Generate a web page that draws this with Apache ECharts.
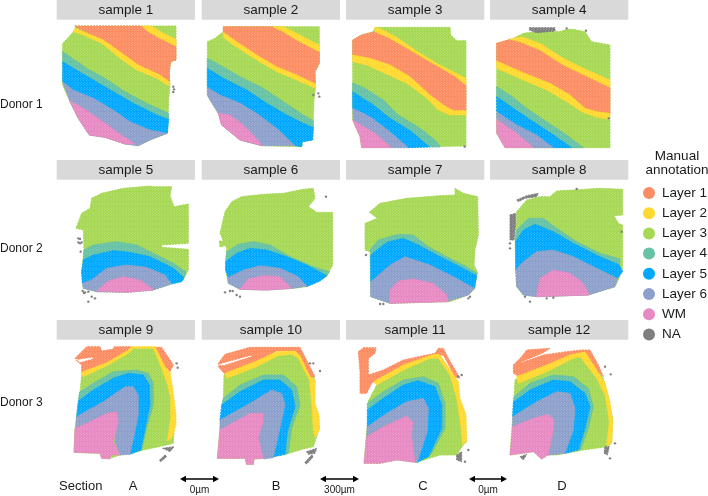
<!DOCTYPE html>
<html><head><meta charset="utf-8">
<script src="https://cdn.jsdelivr.net/npm/echarts@6/dist/echarts.min.js"></script>
<style>html,body{margin:0;padding:0;background:#fff}#c{width:708px;height:496px}</style></head>
<body><div id="c"></div>
<script>
// Region outlines, in tissue coordinates; each list is x,y,x,y...; two numbers = one lone spot.
const layerNames=['Layer 3','Layer 1','Layer 2','Layer 4','Layer 5','Layer 6','WM','NA'];
const legendNames=['Layer 1','Layer 2','Layer 3','Layer 4','Layer 5','Layer 6','WM','NA'];
const layerColors={'Layer 1':'#FC8D62','Layer 2':'#FFD92F','Layer 3':'#A6D854','Layer 4':'#66C2A5','Layer 5':'#00A9FF','Layer 6':'#8DA0CB','WM':'#E78AC3','NA':'#7F7F7F'};
const sampleNames=['sample 1','sample 2','sample 3','sample 4','sample 5','sample 6','sample 7','sample 8','sample 9','sample 10','sample 11','sample 12'];
const donorNames=['Donor 1','Donor 2','Donor 3'];
const sectionNames=['A','B','C','D'];
const gapLabels=['0µm','300µm','0µm'];

const s1_L3=[[75,78,378,78,378,180,362,185,358,215,360,255,356,300,354,358,352,400,300,420,265,437,225,432,165,412,118,405,85,355,60,305,38,255,38,130,50,118,75,90]];
const s1_L1=[[75,78,275,78,295,95,330,115,378,138,378,180,362,185,358,215,358,245,330,225,265,195,210,155,160,120,85,85]];
const s1_L2=[[275,78,305,78,340,100,378,118,378,138,330,115,295,95],[75,85,160,120,210,155,265,195,330,225,358,245,358,258,320,235,260,210,210,175,155,130,100,105,70,95]];
const s1_L4=[[38,155,60,170,110,205,165,235,225,275,290,310,356,340,356,358,320,345,250,310,190,275,130,240,70,205,38,185]];
const s1_L5=[[38,185,70,205,130,240,190,275,250,310,320,345,356,358,352,400,300,390,240,365,190,330,130,295,70,270,38,245]];
const s1_L6=[[38,245,70,270,130,295,190,330,240,365,300,390,352,400,300,420,265,437,225,432,165,412,118,405,85,355,60,305]];
const s1_WM=[[60,302,100,325,160,365,200,395,255,432,225,432,165,412,118,405,85,355]];
const s1_NA=[[370,260],[372,268],[370,276]];

const s2_L3=[[520,80,808,80,808,190,795,215,797,262,792,300,788,420,757,425,755,440,635,437,570,420,515,375,505,340,480,300,472,285,472,125,495,115,520,95]];
const s2_L1=[[520,80,668,80,700,95,740,120,808,155,808,190,795,215,796,250,740,225,680,200,620,165,560,125,520,100]];
const s2_L2=[[668,80,700,80,740,100,808,135,808,155,740,120,700,95],[520,97,560,125,620,165,680,200,740,225,797,252,797,265,740,240,680,215,620,180,550,135,520,112]];
const s2_L4=[[472,175,510,195,570,230,640,265,700,305,760,345,790,362,790,383,760,370,710,345,650,310,590,270,520,235,472,205]];
const s2_L5=[[472,205,520,235,590,270,650,310,710,345,760,370,790,383,788,420,757,425,755,440,735,437,680,385,620,340,570,310,510,285,472,262]];
const s2_L6=[[472,262,510,285,570,310,620,340,680,385,735,437,635,437,570,420,515,375,505,340,480,300,472,285]];
const s2_WM=[[505,340,540,345,580,375,610,405,638,437,570,420,515,375]];
const s2_NA=[[805,280],[808,290],[790,285]];

const s3_L3=[[105,82,330,82,332,105,350,122,378,122,378,438,65,443,60,410,38,360,38,120,65,105,100,95]];
const s3_L1=[[38,120,65,105,105,95,150,115,210,150,270,185,340,225,378,255,378,332,340,332,310,315,270,285,210,230,150,195,90,178,38,165]];
const s3_L2=[[105,82,125,88,170,112,225,150,290,190,378,235,378,255,340,225,270,185,210,150,150,115,105,95],[38,165,90,175,150,195,210,230,270,285,310,315,340,332,378,332,378,345,330,345,295,330,255,290,200,250,135,220,80,195,38,185]];
const s3_L4=[[38,248,75,265,130,300,175,345,240,385,285,420,302,441,268,441,215,395,150,355,100,315,38,275]];
const s3_L5=[[38,275,100,315,150,355,215,395,268,441,205,443,150,395,90,350,38,325]];
const s3_L6=[[38,325,90,350,150,395,205,443,155,443,105,400,40,360]];
const s3_WM=[[38,360,105,400,155,443,65,443,60,410]];
const s3_NA=[[374,440]];

const s4_L3=[[510,120,550,100,610,92,660,95,680,88,700,88,735,95,755,125,810,135,810,443,495,443,470,400,470,130]];
const s4_L1=[[470,130,510,118,540,125,600,150,670,195,760,238,810,262,810,340,770,335,735,325,690,285,630,250,550,220,470,185]];
const s4_L2=[[510,118,545,110,600,130,670,175,730,205,810,240,810,262,760,238,670,195,600,150,540,125],[470,183,550,218,630,250,690,285,735,325,770,335,808,340,808,358,770,352,725,335,680,305,620,270,550,240,470,205]];
const s4_L4=[[470,260,510,285,560,325,620,365,680,405,730,443,695,443,640,405,580,365,520,325,470,290]];
const s4_L5=[[470,290,520,325,580,365,640,405,695,443,640,443,590,405,530,375,470,335]];
const s4_L6=[[470,335,530,375,590,405,640,443,580,443,530,400,470,358]];
const s4_WM=[[470,358,530,400,580,443,495,443,470,400]];
const s4_NA=[[568,83,645,83,645,93,590,98,568,90],[680,85],[738,92],[806,355]];

const s5_L3=[[125,130,155,115,220,100,300,93,310,95,365,95,360,122,372,155,415,147,415,265,335,270,335,277,415,283,415,345,400,375,370,385,310,405,230,412,140,410,100,400,95,350,102,285,100,225,78,220,95,175,120,160]];
const s5_L1=[];
const s5_L2=[];
const s5_L4=[[102,285,130,270,200,260,260,270,310,295,370,325,408,350,402,368,370,340,300,305,240,292,190,287,130,300,100,315]];
const s5_L5=[[100,315,130,300,190,287,240,292,300,305,370,340,402,368,395,380,365,387,345,360,290,337,230,330,170,340,125,375,97,385,95,350]];
const s5_L6=[[97,385,125,375,170,340,230,330,290,337,345,360,365,387,310,405,230,412,140,410,100,400]];
const s5_WM=[[140,408,175,378,220,365,270,375,312,405,230,412]];
const s5_NA=[[85,250],[90,252],[85,262],[95,262],[90,265],[92,290],[98,408],[105,412],[115,410],[125,425],[135,430],[115,440],[102,414]];

const s6_L3=[[545,140,575,125,640,118,700,115,760,103,790,100,795,130,775,155,800,172,848,172,848,330,830,365,770,395,730,400,650,405,570,403,535,385,527,345,530,280,510,235,525,170],[508,258,522,258,525,272,510,276]];
const s6_L1=[];
const s6_L2=[];
const s6_L4=[[530,290,565,268,610,260,660,270,720,305,790,335,838,350,830,362,770,330,710,305,650,285,600,280,560,295,527,320]];
const s6_L5=[[527,320,560,295,600,280,650,285,710,305,770,330,830,362,810,378,770,395,745,365,690,340,630,332,580,345,535,368,527,345]];
const s6_L6=[[533,368,580,345,630,332,690,340,745,365,770,393,730,400,650,405,570,403,535,385]];
const s6_WM=[[570,403,595,372,640,362,690,365,725,400,650,405]];
const s6_NA=[[525,412],[540,408],[548,408],[560,420],[570,425],[828,125]];

const s7_L3=[[120,145,200,130,300,122,345,120,345,100,370,115,413,125,415,240,405,285,402,330,412,350,405,400,385,420,330,440,150,445,92,425,92,385,90,290,75,285,75,205,112,190,88,172]];
const s7_L1=[];
const s7_L2=[];
const s7_L4=[[90,285,115,255,175,238,220,240,265,275,320,305,380,335,412,355,408,365,360,335,290,300,235,270,190,250,140,260,95,300]];
const s7_L5=[[92,300,140,262,190,250,235,270,290,300,360,335,410,362,403,400,340,365,270,330,195,305,150,330,110,365,92,380]];
const s7_L6=[[92,380,110,365,150,330,195,305,270,330,340,365,403,400,385,420,325,438,150,445,92,425]];
const s7_WM=[[148,445,150,405,175,378,220,372,280,385,320,420,325,440]];
const s7_NA=[[78,300],[120,447],[130,447],[390,425],[385,430]];

const s8_L3=[[530,170,560,135,600,125,630,125,650,108,700,105,780,100,848,103,848,180,822,182,835,205,848,210,848,340,835,375,825,395,745,420,590,425,550,420,530,395,525,260,530,210]];
const s8_L1=[];
const s8_L2=[];
const s8_L4=[[525,255,530,225,565,190,610,190,650,220,710,260,780,295,840,312,838,330,780,305,700,265,640,230,585,208,550,225,527,260]];
const s8_L5=[[527,260,550,225,585,208,640,230,700,265,780,305,838,330,848,350,832,370,770,340,700,305,640,285,590,290,550,320,527,345]];
const s8_L6=[[527,345,550,320,590,290,640,285,700,305,770,340,832,370,825,395,745,420,590,425,550,420,530,395]];
const s8_WM=[[590,422,600,370,640,345,690,355,730,385,748,420,590,425]];
const s8_NA=[[510,180,527,175,527,210,522,255,510,255],[530,135,560,122,595,115,590,125,555,130,535,140],[510,265],[510,280],[555,425],[570,440],[620,430],[640,428],[845,230],[710,102]];

const s9_L3=[[95,180,240,97,315,97,350,165,365,220,362,280,375,300,370,385,350,390,280,405,245,415,210,420,180,430,155,430,150,415,72,412,75,340,80,300,90,230]];
const s9_L1=[[75,130,110,95,150,95,155,108,190,102,192,95,245,95,230,115,170,145,95,175,95,150,78,135,90,143,130,132,128,126,85,133],[315,97,335,97,370,150,360,170,345,155,325,115]];
const s9_L2=[[95,172,170,143,235,105,245,95,315,95,325,115,345,155,360,170,368,220,378,300,378,330,365,370,352,378,362,310,362,250,350,200,335,160,310,100,250,100,240,112,175,150,100,185]];
const s9_L4=[[88,232,130,205,190,170,260,165,295,175,310,205,310,270,290,340,275,405,268,408,280,340,300,270,298,210,280,180,235,175,190,190,130,225,85,260]];
const s9_L5=[[85,258,130,225,190,190,235,175,280,180,298,210,300,270,285,340,272,405,240,418,255,350,265,300,265,240,250,215,225,215,160,260,115,285,80,305]];
const s9_L6=[[80,305,115,285,160,260,225,215,250,215,265,240,265,300,255,350,240,418,210,420,195,380,200,320,200,290,170,295,110,325,78,340]];
const s9_WM=[[75,340,110,325,170,295,200,290,205,320,190,380,210,420,182,420,180,432,155,430,150,415,72,412]];
const s9_NA=[[338,400,372,395,360,410,350,405],[345,420,350,425,332,440,328,436],[380,145],[383,158]];

const s10_L3=[[522,180,680,115,750,110,780,160,795,195,792,270,805,300,808,340,790,395,760,402,700,420,640,430,612,432,610,448,590,448,585,430,502,430,510,340,520,260]];
const s10_L1=[[505,145,525,118,600,97,750,97,795,185,775,185,750,125,735,108,680,108,620,140,525,178,505,155,505,152,520,152,605,125,605,120,520,143,505,148]];
const s10_L2=[[525,175,620,138,680,110,735,108,750,122,780,185,795,195,795,265,807,300,808,345,795,368,790,345,785,265,778,195,745,130,725,118,685,122,620,155,530,190]];
const s10_L4=[[520,250,570,210,640,180,700,180,740,215,750,270,725,340,715,415,705,418,712,350,735,275,725,225,690,195,640,195,570,230,515,270]];
const s10_L5=[[515,270,570,230,640,195,690,195,725,225,735,275,712,350,705,418,670,425,690,340,705,270,695,235,665,225,600,265,510,315]];
const s10_L6=[[510,315,600,265,665,225,695,235,705,270,690,340,670,428,640,432,625,370,640,320,638,295,600,295,510,345]];
const s10_WM=[[510,345,600,295,638,295,640,320,625,370,640,430,612,432,610,448,590,448,585,430,502,430]];
const s10_NA=[[770,410,800,400,795,415,775,418],[785,420,790,425,770,447,764,443],[810,168],[780,145],[790,145]];

const s11_L3=[[85,258,110,210,280,115,300,120,345,190,365,280,380,380,370,390,350,420,300,420,230,442,170,435,120,445,72,445,78,370,82,330,88,270]];
const s11_L1=[[55,110,70,98,108,98,105,115,85,130,85,180,130,165,190,135,285,115,295,100,310,100,325,130,360,190,345,185,310,120,275,125,190,155,125,185,95,205,80,235,60,235,60,170]];
const s11_L2=[[100,200,190,150,280,118,298,118,320,150,355,200,360,250,378,300,380,375,368,390,362,330,350,250,330,180,295,130,270,130,190,165,110,210]];
const s11_L4=[[82,265,130,230,190,195,250,185,295,205,315,265,315,340,275,415,265,425,305,340,305,270,285,215,235,197,190,210,130,250,82,285]];
const s11_L5=[[82,285,130,250,190,210,235,197,285,215,305,270,305,340,265,425,232,442,262,350,265,280,250,250,200,260,140,295,82,335]];
const s11_L6=[[82,335,140,295,200,260,250,250,265,280,262,350,232,442,210,438,215,365,215,320,200,305,130,335,80,365]];
const s11_WM=[[80,365,130,335,200,303,218,320,215,365,225,442,170,435,120,445,72,445]];
const s11_NA=[[350,420,365,410,365,440,350,435],[385,405],[355,185],[365,180],[375,440]];

const s12_L3=[[525,195,700,115,735,108,790,190,805,250,818,310,815,385,800,395,730,405,650,420,620,420,605,432,580,410,510,420,515,350,520,280]];
const s12_L1=[[520,150,545,125,560,105,630,100,610,113,545,140,540,145,610,120,680,110,725,105,750,105,775,150,790,185,770,165,735,120,690,125,620,155,540,185,520,175]];
const s12_L2=[[530,185,620,150,690,120,735,110,770,165,795,205,810,260,818,320,815,385,800,390,808,320,795,240,770,190,720,125,700,130,620,170,535,205]];
const s12_L4=[[522,245,570,205,640,180,700,185,745,220,760,275,745,340,722,405,712,405,735,340,750,275,735,235,690,200,640,195,570,225,520,262]];
const s12_L5=[[520,262,570,225,640,195,690,200,735,235,750,275,735,340,715,405,675,415,700,345,705,280,690,235,650,230,590,260,518,305]];
const s12_L6=[[518,305,590,260,650,230,690,235,705,280,700,345,675,415,625,420,640,345,642,315,625,298,580,310,518,335]];
const s12_WM=[[518,335,580,310,625,298,642,315,640,345,625,420,605,432,580,410,510,420]];
const s12_NA=[[795,395,808,395,802,420,792,415],[540,425,560,418,550,435],[795,155],[812,178],[825,385],[810,430]];

const sampleRegions=[
 [s1_L3,s1_L1,s1_L2,s1_L4,s1_L5,s1_L6,s1_WM,s1_NA],[s2_L3,s2_L1,s2_L2,s2_L4,s2_L5,s2_L6,s2_WM,s2_NA],
 [s3_L3,s3_L1,s3_L2,s3_L4,s3_L5,s3_L6,s3_WM,s3_NA],[s4_L3,s4_L1,s4_L2,s4_L4,s4_L5,s4_L6,s4_WM,s4_NA],
 [s5_L3,s5_L1,s5_L2,s5_L4,s5_L5,s5_L6,s5_WM,s5_NA],[s6_L3,s6_L1,s6_L2,s6_L4,s6_L5,s6_L6,s6_WM,s6_NA],
 [s7_L3,s7_L1,s7_L2,s7_L4,s7_L5,s7_L6,s7_WM,s7_NA],[s8_L3,s8_L1,s8_L2,s8_L4,s8_L5,s8_L6,s8_WM,s8_NA],
 [s9_L3,s9_L1,s9_L2,s9_L4,s9_L5,s9_L6,s9_WM,s9_NA],[s10_L3,s10_L1,s10_L2,s10_L4,s10_L5,s10_L6,s10_WM,s10_NA],
 [s11_L3,s11_L1,s11_L2,s11_L4,s11_L5,s11_L6,s11_WM,s11_NA],[s12_L3,s12_L1,s12_L2,s12_L4,s12_L5,s12_L6,s12_WM,s12_NA]
];

// ---- layout ----
const FONT='"Liberation Sans",Arial,sans-serif', INK='#1a1a1a';
const colLeft=[56.7,201.7,346,490], colOrigin=[50,50,340,340], stripW=138.3, stripH=19.7;
const rowTop=[0,160,320], rowOrigin=[0,155,315], panelH=128;
const donorY=[105,249,403], sectionX=[133,276,423,562], arrowX=[[180,219],[320,359],[469,507]];

// spot texture: a tile of the fill colour with faint pale gaps, staggered like the spot array
function spotTile(color){
  const c=document.createElement('canvas');c.width=6;c.height=5;
  const g=c.getContext('2d');g.fillStyle=color;g.fillRect(0,0,6,5);
  g.fillStyle='rgba(255,255,255,0.16)';
  [[2,0],[5,0],[0,2],[3,2],[2,3],[5,3],[0,4],[3,4]].forEach(p=>g.fillRect(p[0],p[1],1,1));
  return c;
}
const tiles={};Object.keys(layerColors).forEach(k=>tiles[k]=spotTile(layerColors[k]));

const grids=[],xAxes=[],yAxes=[],series=[],graphics=[];
sampleNames.forEach((nm,i)=>{
  const col=i%4,row=Math.floor(i/4),L=colLeft[col],T=rowTop[row]+stripH;
  grids.push({left:L,top:T,width:stripW,height:panelH});
  xAxes.push({type:'value',gridIndex:i,show:false,min:(L-colOrigin[col])*3,max:(L+stripW-colOrigin[col])*3});
  yAxes.push({type:'value',gridIndex:i,show:false,inverse:true,min:(T-rowOrigin[row])*3,max:(T+panelH-rowOrigin[row])*3});
  graphics.push({type:'rect',silent:true,shape:{x:L,y:rowTop[row],width:stripW,height:stripH},style:{fill:'#D9D9D9'}});
  graphics.push({type:'text',silent:true,x:L+stripW/2,y:rowTop[row]+stripH/2+0.5,style:{text:nm,fill:INK,font:'13.5px '+FONT,textAlign:'center',textVerticalAlign:'middle'}});
  layerNames.forEach((ln,k)=>{
    const polys=sampleRegions[i][k];
    series.push({
      type:'custom',name:ln,xAxisIndex:i,yAxisIndex:i,coordinateSystem:'cartesian2d',clip:false,silent:true,animation:false,
      itemStyle:{color:layerColors[ln]},
      data:polys.map((p,j)=>j),
      renderItem:(params,api)=>{
        const p=polys[params.dataIndex];
        if(p.length===2){const q=api.coord(p);return{type:'circle',shape:{cx:q[0],cy:q[1],r:1.2},style:{fill:layerColors[ln]}};}
        const pts=[];for(let n=0;n<p.length;n+=2)pts.push(api.coord([p[n],p[n+1]]));
        return{type:'polygon',shape:{points:pts},style:{fill:{image:tiles[ln],repeat:'repeat'},stroke:layerColors[ln],lineWidth:1,lineDash:[2,1],lineJoin:'round'}};
      }
    });
  });
});

donorNames.forEach((d,i)=>graphics.push({type:'text',silent:true,x:0,y:donorY[i],style:{text:d,fill:INK,font:'12px '+FONT,textVerticalAlign:'middle'}}));
graphics.push({type:'text',silent:true,x:59,y:486,style:{text:'Section',fill:INK,font:'13px '+FONT,textVerticalAlign:'middle'}});
sectionNames.forEach((s,i)=>graphics.push({type:'text',silent:true,x:sectionX[i],y:486,style:{text:s,fill:INK,font:'13px '+FONT,textAlign:'center',textVerticalAlign:'middle'}}));
arrowX.forEach((a,i)=>{
  const y=479;
  graphics.push({type:'line',silent:true,shape:{x1:a[0]+2,y1:y,x2:a[1]-2,y2:y},style:{stroke:'#000',lineWidth:1.4}});
  graphics.push({type:'polygon',silent:true,shape:{points:[[a[0],y],[a[0]+6,y-3.2],[a[0]+6,y+3.2]]},style:{fill:'#000'}});
  graphics.push({type:'polygon',silent:true,shape:{points:[[a[1],y],[a[1]-6,y-3.2],[a[1]-6,y+3.2]]},style:{fill:'#000'}});
  graphics.push({type:'text',silent:true,x:(a[0]+a[1])/2,y:490,style:{text:gapLabels[i],fill:INK,font:'10px '+FONT,textAlign:'center',textVerticalAlign:'middle'}});
});
graphics.push({type:'text',silent:true,x:677,y:156,style:{text:'Manual',fill:INK,font:'13.5px '+FONT,textAlign:'center',textVerticalAlign:'middle'}});
graphics.push({type:'text',silent:true,x:677,y:170,style:{text:'annotation',fill:INK,font:'13.5px '+FONT,textAlign:'center',textVerticalAlign:'middle'}});

const chart=echarts.init(document.getElementById('c'),null,{renderer:'canvas'});
chart.setOption({
  animation:false,backgroundColor:'#fff',
  grid:grids,xAxis:xAxes,yAxis:yAxes,series:series,graphic:{elements:graphics},
  legend:{data:legendNames.map(n=>({name:n,icon:'circle'})),orient:'vertical',left:643,top:186,itemWidth:12,itemHeight:12,itemGap:6.2,selectedMode:false,
    textStyle:{fontFamily:'Liberation Sans',fontSize:13.5,color:INK,padding:[0,0,0,2]},padding:0}
});
</script></body></html>
